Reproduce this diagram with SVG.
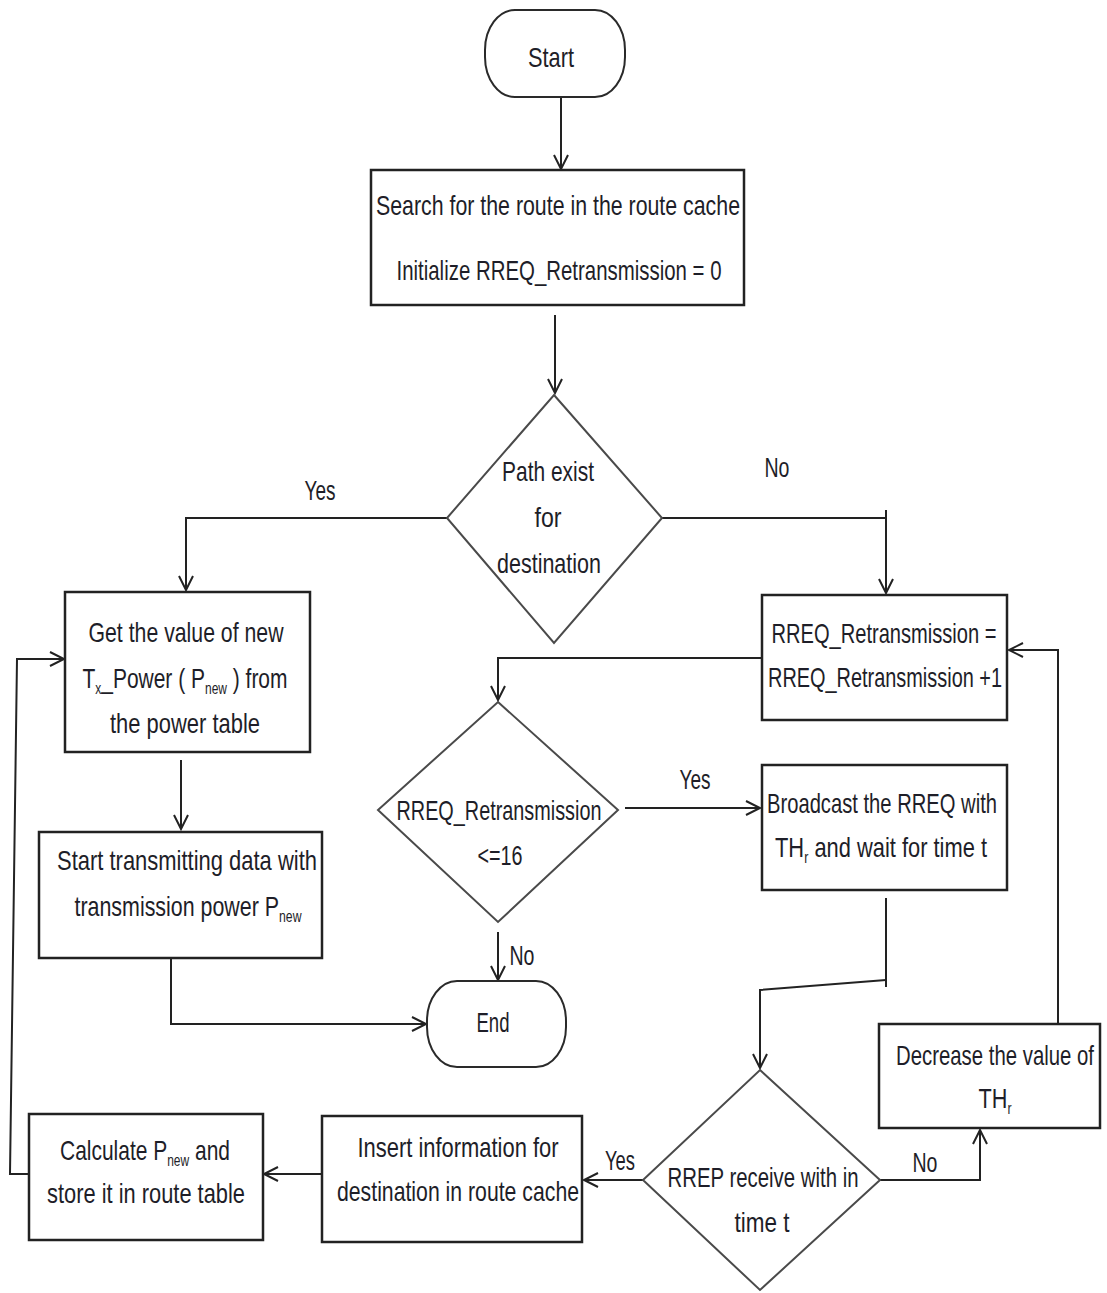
<svg xmlns="http://www.w3.org/2000/svg" width="1107" height="1293" viewBox="0 0 1107 1293">
  <style>
    .box { fill: #ffffff; stroke: #222222; stroke-width: 2.5; }
    .dia { fill: #ffffff; stroke: #4a4a4a; stroke-width: 2; }
    .term { fill: #ffffff; stroke: #2a2a2a; stroke-width: 2; }
    .wire { fill: none; stroke: #222222; stroke-width: 2; }
    text { font-family: "Liberation Sans", Arial, sans-serif; font-size: 28px; fill: #1e1e28; text-anchor: middle; }
    .sub { font-size: 16px; }
  </style>
  <defs>
    <marker id="arrow" markerUnits="userSpaceOnUse" markerWidth="18" markerHeight="18" refX="15" refY="8" orient="auto">
      <path d="M1,1 L15,8 L1,15" fill="none" stroke="#222222" stroke-width="2"/>
    </marker>
  </defs>

  <!-- connectors -->
  <g id="connectors">
    <path class="wire" d="M561,97 V169" marker-end="url(#arrow)"/>
    <path class="wire" d="M555,315 V393" marker-end="url(#arrow)"/>
    <path class="wire" d="M447,518 H186 V590" marker-end="url(#arrow)"/>
    <path class="wire" d="M662,518 H886"/>
    <path class="wire" d="M886,510 V593" marker-end="url(#arrow)"/>
    <path class="wire" d="M181,760 V829" marker-end="url(#arrow)"/>
    <path class="wire" d="M171,958 V1024 H426" marker-end="url(#arrow)"/>
    <path class="wire" d="M772,658 H498 V700" marker-end="url(#arrow)"/>
    <path class="wire" d="M625,808 H760" marker-end="url(#arrow)"/>
    <path class="wire" d="M498,932 V980" marker-end="url(#arrow)"/>
    <path class="wire" d="M886,898 V987"/>
    <path class="wire" d="M886,980 L760,990 V1068" marker-end="url(#arrow)"/>
    <path class="wire" d="M643,1180 H584" marker-end="url(#arrow)"/>
    <path class="wire" d="M322,1174 H264" marker-end="url(#arrow)"/>
    <path class="wire" d="M29,1174 H10 L17,659 H64" marker-end="url(#arrow)"/>
    <path class="wire" d="M880,1180 H980 V1130" marker-end="url(#arrow)"/>
    <path class="wire" d="M1058,1024 V650 H1009" marker-end="url(#arrow)"/>

    <text x="320" y="500" textLength="31" lengthAdjust="spacingAndGlyphs">Yes</text>
    <text x="777" y="477" textLength="25" lengthAdjust="spacingAndGlyphs">No</text>
    <text x="695" y="789" textLength="31" lengthAdjust="spacingAndGlyphs">Yes</text>
    <text x="522" y="965" textLength="25" lengthAdjust="spacingAndGlyphs">No</text>
    <text x="620" y="1170" textLength="30" lengthAdjust="spacingAndGlyphs">Yes</text>
    <text x="925" y="1172" textLength="25" lengthAdjust="spacingAndGlyphs">No</text>
  </g>

  <g id="start">
    <rect class="term" x="485" y="10" width="140" height="87" rx="30" ry="40"/>
    <text x="551" y="67" textLength="46" lengthAdjust="spacingAndGlyphs">Start</text>
  </g>

  <g id="search">
    <rect class="box" x="371" y="170" width="373" height="135"/>
    <text x="558" y="215" textLength="364" lengthAdjust="spacingAndGlyphs">Search for the route in the route cache</text>
    <text x="559" y="280" textLength="325" lengthAdjust="spacingAndGlyphs">Initialize RREQ_Retransmission = 0</text>
  </g>

  <g id="path-exist">
    <polygon class="dia" points="554,395 662,518 554,643 447,518"/>
    <text x="548" y="481" textLength="92" lengthAdjust="spacingAndGlyphs">Path exist</text>
    <text x="548" y="527" textLength="27" lengthAdjust="spacingAndGlyphs">for</text>
    <text x="549" y="573" textLength="104" lengthAdjust="spacingAndGlyphs">destination</text>
  </g>

  <g id="get-power">
    <rect class="box" x="65" y="592" width="245" height="160"/>
    <text x="186" y="642" textLength="195" lengthAdjust="spacingAndGlyphs">Get the value of new</text>
    <text x="185" y="688" textLength="205" lengthAdjust="spacingAndGlyphs">T<tspan class="sub" dy="6">x</tspan><tspan dy="-6">_Power ( P</tspan><tspan class="sub" dy="6">new</tspan><tspan dy="-6"> ) from</tspan></text>
    <text x="185" y="733" textLength="150" lengthAdjust="spacingAndGlyphs">the power table</text>
  </g>

  <g id="start-transmitting">
    <rect class="box" x="39" y="832" width="283" height="126"/>
    <text x="187" y="870" textLength="260" lengthAdjust="spacingAndGlyphs">Start transmitting data with</text>
    <text x="188" y="916" textLength="227" lengthAdjust="spacingAndGlyphs">transmission power P<tspan class="sub" dy="6">new</tspan></text>
  </g>

  <g id="end">
    <rect class="term" x="427" y="981" width="139" height="86" rx="30" ry="40"/>
    <text x="493" y="1032" textLength="33" lengthAdjust="spacingAndGlyphs">End</text>
  </g>

  <g id="rreq-increment">
    <rect class="box" x="762" y="595" width="245" height="125"/>
    <text x="884" y="643" textLength="225" lengthAdjust="spacingAndGlyphs">RREQ_Retransmission =</text>
    <text x="885" y="687" textLength="234" lengthAdjust="spacingAndGlyphs">RREQ_Retransmission +1</text>
  </g>

  <g id="rreq-check">
    <polygon class="dia" points="498,702 618,810 498,922 378,810"/>
    <text x="499" y="820" textLength="205" lengthAdjust="spacingAndGlyphs">RREQ_Retransmission</text>
    <text x="500" y="865" textLength="45" lengthAdjust="spacingAndGlyphs">&lt;=16</text>
  </g>

  <g id="broadcast">
    <rect class="box" x="762" y="765" width="245" height="125"/>
    <text x="882" y="813" textLength="230" lengthAdjust="spacingAndGlyphs">Broadcast the RREQ with</text>
    <text x="881" y="857" textLength="212" lengthAdjust="spacingAndGlyphs">TH<tspan class="sub" dy="6">r</tspan><tspan dy="-6"> and wait for time t</tspan></text>
  </g>

  <g id="decrease">
    <rect class="box" x="879" y="1024" width="221" height="104"/>
    <text x="995" y="1065" textLength="198" lengthAdjust="spacingAndGlyphs">Decrease the value of</text>
    <text x="995" y="1108" textLength="33" lengthAdjust="spacingAndGlyphs">TH<tspan class="sub" dy="6">r</tspan></text>
  </g>

  <g id="rrep-check">
    <polygon class="dia" points="760,1070 880,1180 760,1290 643,1180"/>
    <text x="763" y="1187" textLength="191" lengthAdjust="spacingAndGlyphs">RREP receive with in</text>
    <text x="762" y="1232" textLength="55" lengthAdjust="spacingAndGlyphs">time t</text>
  </g>

  <g id="insert">
    <rect class="box" x="322" y="1116" width="260" height="126"/>
    <text x="458" y="1157" textLength="201" lengthAdjust="spacingAndGlyphs">Insert information for</text>
    <text x="458" y="1201" textLength="242" lengthAdjust="spacingAndGlyphs">destination in route cache</text>
  </g>

  <g id="calculate">
    <rect class="box" x="29" y="1114" width="234" height="126"/>
    <text x="145" y="1160" textLength="170" lengthAdjust="spacingAndGlyphs">Calculate P<tspan class="sub" dy="6">new</tspan><tspan dy="-6"> and</tspan></text>
    <text x="146" y="1203" textLength="198" lengthAdjust="spacingAndGlyphs">store it in route table</text>
  </g>
</svg>
